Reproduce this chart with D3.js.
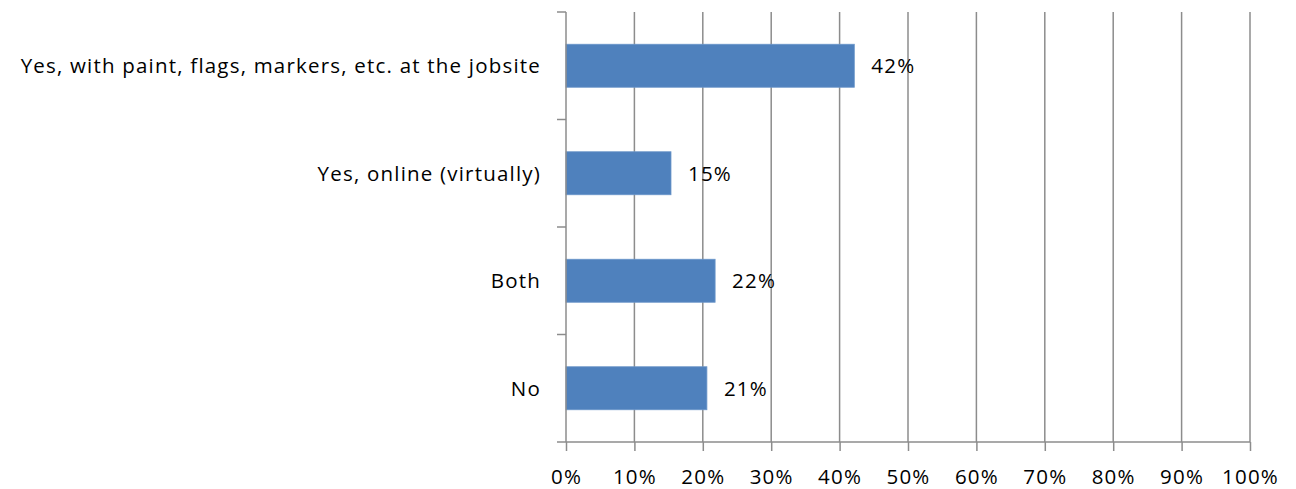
<!DOCTYPE html>
<html>
<head>
<meta charset="utf-8">
<script src="https://cdn.jsdelivr.net/npm/d3@7"></script>
<style>
  html, body { margin: 0; padding: 0; background: #fff; }
  svg text { font-family: "Open Sans", "Noto Sans", sans-serif; fill: #000; font-size: 20.5px; letter-spacing: 1.2px; }
</style>
</head>
<body>
<svg id="chart" width="1296" height="489"></svg>
<script>
// Survey answers and their shares (fractions of respondents)
const categories = [
  "Yes, with paint, flags, markers, etc. at the jobsite",
  "Yes, online (virtually)",
  "Both",
  "No"
];
const shares = [0.4215, 0.1535, 0.218, 0.206];
const tickValues = [0, 0.1, 0.2, 0.3, 0.4, 0.5, 0.6, 0.7, 0.8, 0.9, 1.0];

const svg = d3.select("#chart");
const margin = { left: 566, right: 46, top: 12, bottom: 47 };
const W = 1296, H = 489;
const x0 = margin.left, x1 = W - margin.right;
const y0 = margin.top, y1 = H - margin.bottom;

const x = d3.scaleLinear().domain([0, 1]).range([x0, x1]);
const y = d3.scaleBand().domain(categories).range([y0, y1]).paddingInner(0.6).paddingOuter(0.3);
const grid = "#8c8c8c";

// Vertical gridlines
svg.append("g").selectAll("line").data(tickValues.slice(1)).join("line")
  .attr("x1", d => x(d)).attr("x2", d => x(d))
  .attr("y1", y0).attr("y2", y1)
  .attr("stroke", grid).attr("stroke-width", 1.5);

// Bars
svg.append("g").selectAll("rect").data(categories).join("rect")
  .attr("x", x(0))
  .attr("y", d => y(d))
  .attr("width", (d, i) => x(shares[i]) - x(0))
  .attr("height", y.bandwidth())
  .attr("fill", "#4f81bd")
  .attr("stroke", "#6b96c9").attr("stroke-width", 0.8);

// Value labels
svg.append("g").selectAll("text").data(categories).join("text")
  .attr("x", (d, i) => x(shares[i]) + 17)
  .attr("y", d => y(d) + y.bandwidth() / 2)
  .attr("dy", "0.36em")
  .text((d, i) => d3.format(".0%")(shares[i]));

// Bottom axis
const xAxis = d3.axisBottom(x).tickValues(tickValues).tickFormat(d3.format(".0%"))
  .tickSize(9).tickPadding(18);
const gx = svg.append("g").attr("transform", `translate(0,${y1})`).call(xAxis);
gx.select(".domain").remove();
gx.append("line").attr("x1", x0 - 9).attr("x2", x1).attr("stroke", grid).attr("stroke-width", 1.5);
gx.selectAll(".tick line").attr("stroke", grid).attr("stroke-width", 1.5);
gx.selectAll(".tick text").attr("font-size", null).attr("font-family", null).attr("fill", "#000");
gx.attr("font-size", null).attr("font-family", null);

// Left axis: category boundary ticks and labels
const step = (y1 - y0) / categories.length;
const gy = svg.append("g");
gy.append("line").attr("x1", x0).attr("x2", x0).attr("y1", y0).attr("y2", y1)
  .attr("stroke", grid).attr("stroke-width", 1.5);
gy.selectAll("line.tk").data(d3.range(categories.length)).join("line").attr("class", "tk")
  .attr("x1", x0 - 9).attr("x2", x0)
  .attr("y1", i => y0 + i * step).attr("y2", i => y0 + i * step)
  .attr("stroke", grid).attr("stroke-width", 1.5);
gy.selectAll("text").data(categories).join("text")
  .attr("x", x0 - 25)
  .attr("y", d => y(d) + y.bandwidth() / 2)
  .attr("dy", "0.36em")
  .attr("text-anchor", "end")
  .text(d => d);
</script>
</body>
</html>
